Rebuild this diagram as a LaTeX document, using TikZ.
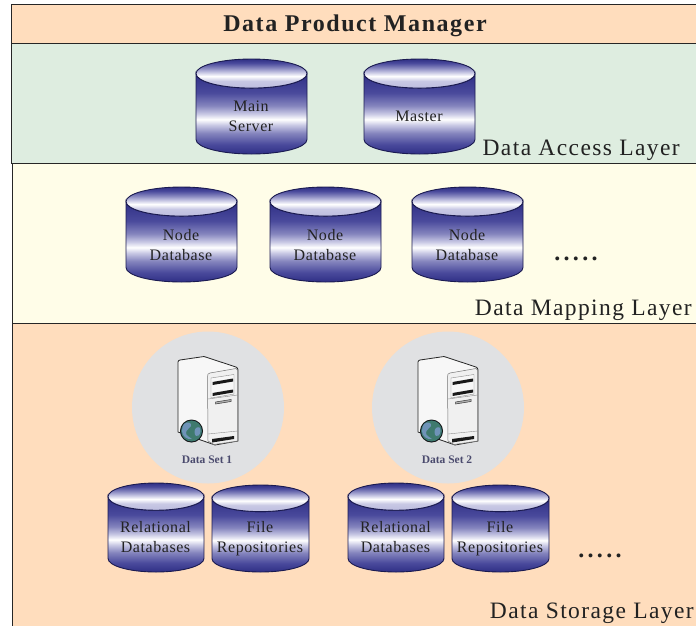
\documentclass[tikz,border=0pt]{standalone}
\usepackage{fontspec}
\setmainfont[LetterSpace=6]{Liberation Serif}
\newfontfamily\titlefont[LetterSpace=6.5]{Liberation Serif}
\newfontfamily\plainfont{Liberation Serif}
\newfontfamily\dotsfont[LetterSpace=14]{Liberation Serif}
\newfontfamily\dbfont[LetterSpace=3.5]{Liberation Serif}
\definecolor{peach}{HTML}{FFDDBD}
\definecolor{mint}{HTML}{DEEDE0}
\definecolor{cream}{HTML}{FFFDE8}
\definecolor{dbline}{HTML}{1A1A50}
\definecolor{disc}{HTML}{E0E1E3}
\definecolor{capt}{HTML}{4B4B6E}
\definecolor{inktext}{HTML}{222222}
\definecolor{dbA}{HTML}{2F2F85}
\definecolor{dbB}{HTML}{4A4A9C}
\definecolor{dbC}{HTML}{8585BE}
\definecolor{dbD}{HTML}{C8C8E4}
\definecolor{dbE}{HTML}{FFFFFF}
\definecolor{dbF}{HTML}{BDBDDF}
\pgfdeclareverticalshading{dbbodyshade}{100bp}{%
  color(0bp)=(dbA);
  color(25bp)=(dbA);
  color(31bp)=(dbB);
  color(38bp)=(dbC);
  color(43bp)=(dbD);
  color(46.5bp)=(dbE);
  color(50bp)=(dbD);
  color(55bp)=(dbC);
  color(63bp)=(dbB);
  color(75bp)=(dbA);
  color(100bp)=(dbA)}
\pgfdeclareverticalshading{dbcapshade}{100bp}{%
  color(0bp)=(dbF);
  color(25bp)=(dbF);
  color(37bp)=(dbD);
  color(45.5bp)=(dbE);
  color(52bp)=(dbD);
  color(60bp)=(dbC);
  color(68bp)=(dbB);
  color(75bp)=(dbA);
  color(100bp)=(dbA)}
\tikzset{
  band/.style={draw=black!85,line width=0.9pt},
  layerlabel/.style={inner sep=0pt,font=\fontsize{23.5}{25}\selectfont,text=inktext},
  dblabel/.style={inner sep=0pt,align=center,font=\dbfont\fontsize{16}{20}\selectfont,text=inktext},
  dotslabel/.style={inner sep=0pt,font=\dotsfont\bfseries\fontsize{24}{24}\selectfont,text=inktext},
  dbbody/.style={draw=dbline,line width=0.9pt,shading=dbbodyshade},
  dbcap/.style={draw=dbline,line width=0.9pt,shading=dbcapshade},
  caption/.style={inner sep=0pt,font=\plainfont\bfseries\fontsize{11.5}{13}\selectfont,text=capt},
  towerline/.style={draw=black!85,line width=0.8pt},
}
% \dbcyl{name}{left}{right}{top}{bottom}{text}
\newcommand{\dbcyl}[6]{%
  \pgfmathsetmacro{\cxx}{(#2+#3)/2}%
  \pgfmathsetmacro{\rxx}{(#3-#2)/2}%
  \pgfmathsetmacro{\ryy}{(#5-#4)*0.153}%
  \pgfmathsetmacro{\ctop}{#4+\ryy}%
  \pgfmathsetmacro{\cbot}{#5-\ryy}%
  \pgfmathsetmacro{\cmid}{(\ctop+\cbot)/2+\ryy/2+3}%
  \path[dbbody] (#2,\ctop) -- (#2,\cbot) arc[start angle=180,end angle=360,x radius=\rxx,y radius=-\ryy] -- (#3,\ctop) arc[start angle=0,end angle=180,x radius=\rxx,y radius=\ryy] -- cycle;
  \path[dbcap] (\cxx,\ctop) ellipse[x radius=\rxx,y radius=\ryy];
  \node[dblabel] (#1) at (\cxx-0.5,\cmid) {#6};
}
% \servericon{name}{dx}{caption}
\newcommand{\servericon}[3]{%
\begin{scope}[shift={(#2,0)}]
  \fill[disc] (208,407.5) circle[radius=76];
  \path[towerline,fill=white!97!black] (178,362) .. controls (178,361) and (179,360) .. (180,360) -- (204,356.5) -- (236,367) .. controls (237,368) and (238,368) .. (238,370) -- (238,441) -- (215,445) -- (178,432) -- cycle;
  \path[draw=black!55,line width=0.5pt,fill=black!6] (207.5,377) .. controls (207.5,374) and (208,373.5) .. (210,373) -- (236,368.5) -- (237.5,370) -- (237.5,441) -- (214,444.5) -- (208,441) -- cycle;
  \path[draw=black!45,line width=0.4pt,fill=black!3] (211,378) -- (234,374.5) -- (234,394) -- (211,398) -- cycle;
  \path[draw=black!45,line width=0.4pt] (208,399) -- (237.5,395) (208,434) -- (237.5,431);
  \fill[black!90] (212.5,382) -- (233,378.5) -- (233,381.5) -- (212.5,385) -- cycle;
  \fill[black!90] (212.5,393) -- (233,389.5) -- (233,392.5) -- (212.5,396) -- cycle;
  \path[draw=black!80,fill=black!30,line width=0.5pt] (215.5,402) -- (231,399.5) -- (231,401.5) -- (215.5,404) -- cycle;
  \fill[black!90] (212,439) -- (234,436) -- (234,439) -- (212,442.5) -- cycle;
  \path[draw=black!90,line width=1pt,fill=black!60!green!60!blue] (191.5,431) circle[radius=11];
  \fill[globeG] (191.5,431) circle[radius=10.4];
  \fill[globeB] (184,424) .. controls (188,421) and (192,423) .. (191,426) .. controls (190,429) and (186,429) .. (186,433) .. controls (186,436) and (190,437) .. (192,439) .. controls (187,440) and (182,436) .. (182,431) .. controls (182,428) and (183,426) .. (184,424) -- cycle;
  \fill[globeB] (196,428) .. controls (199,426) and (201,428) .. (200.5,431) .. controls (200,435) and (198,437) .. (196,436) .. controls (194,434) and (194,430) .. (196,428) -- cycle;
  \node[caption] (#1) at (207,459.5) {#3};
\end{scope}}
\definecolor{globeG}{HTML}{3F7A6E}
\definecolor{globeB}{HTML}{6F93B8}
\begin{document}
\begin{tikzpicture}[x=1pt,y=-1pt]
\useasboundingbox (0,0) rectangle (696,625);
\begin{scope}
\clip (0,0) rectangle (696,625);
\fill[white] (0,0) rectangle (696,625);
% bands
\path[band,fill=peach] (11.5,4.5) rectangle (700,43);
\path[band,fill=mint] (11.5,43) rectangle (700,163);
\path[band,fill=cream] (12.5,163) rectangle (700,323);
\path[band,fill=peach] (12.5,323) rectangle (700,630);
\end{scope}
% headings
\node[inner sep=0pt,font=\titlefont\bfseries\fontsize{24}{26}\selectfont,text=inktext] (title) at (355,26) {Data Product Manager};
\node[layerlabel,anchor=east] (access) at (680,150) {Data Access Layer};
\node[layerlabel,anchor=east] (mapping) at (692,310) {Data Mapping Layer};
\node[layerlabel,anchor=east] (storage) at (694,613) {Data Storage Layer};
% access layer
\dbcyl{mainsrv}{196}{307}{59}{154}{Main\\Server}
\dbcyl{master}{364}{475}{59}{154}{Master}
% mapping layer
\dbcyl{nodea}{126}{237}{187}{282}{Node\\Database}
\dbcyl{nodeb}{270}{381}{187}{282}{Node\\Database}
\dbcyl{nodec}{412}{523}{187}{282}{Node\\Database}
\node[dotslabel] (dotsa) at (576,259) {.....};
% storage layer
\servericon{seta}{0}{Data Set 1}
\servericon{setb}{240}{Data Set 2}
\dbcyl{rela}{108}{204}{483}{572}{Relational\\Databases}
\dbcyl{filea}{212}{309}{485}{572}{File\\Repositories}
\dbcyl{relb}{348}{444}{483}{572}{Relational\\Databases}
\dbcyl{fileb}{452}{549}{485}{572}{File\\Repositories}
\node[dotslabel] (dotsb) at (600,556) {.....};
\end{tikzpicture}
\end{document}
